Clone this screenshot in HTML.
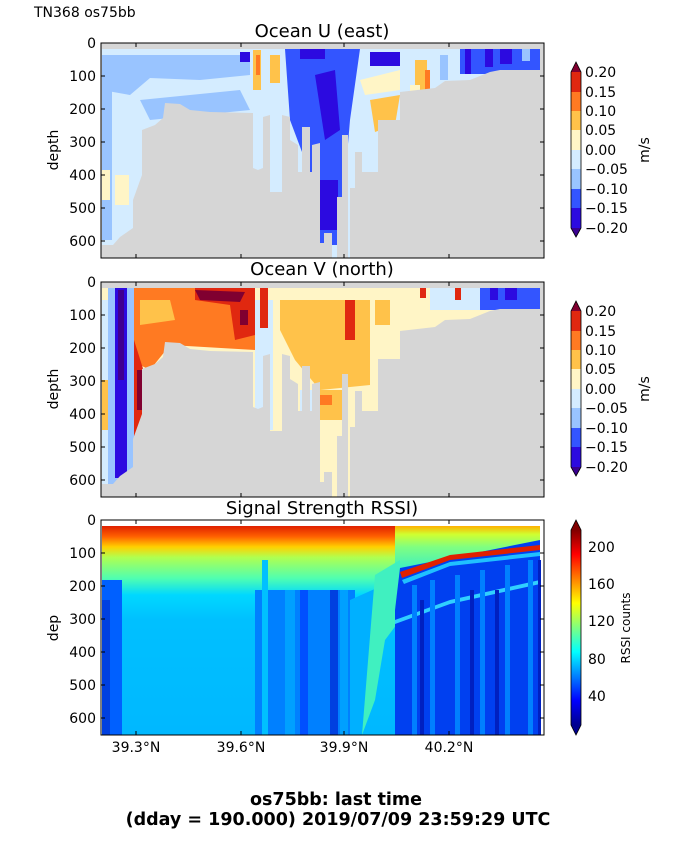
<!DOCTYPE html>
<html><head><meta charset="utf-8"><style>
body{margin:0;background:#fff;}
svg text{font-family:"DejaVu Sans","Liberation Sans",sans-serif;}
</style></head><body>
<svg width="675" height="855" viewBox="0 0 675 855" xmlns="http://www.w3.org/2000/svg">
<defs>
<g id="bathy">
<path d="M102,258 L102,245 L113,245 L120,237 L133,228 L133,200 L142,175 L142,130 L155,125 L163,118 L165,103 L180,104 L190,110 L210,112 L253,113 L253,168 L258,170 L263,168 L263,117 L270,115 L270,192 L282,192 L282,115 L290,117 L290,140 L298,145 L298,172 L302,172 L302,127 L310,127 L310,172 L312,172 L312,145 L320,143 L320,243 L324,243 L324,233 L332,233 L332,258 L337,258 L337,197 L342,197 L342,135 L348,135 L348,258 L350,258 L350,188 L355,188 L355,152 L362,152 L362,172 L378,172 L378,120 L400,120 L400,92 L435,88 L445,81 L470,80 L480,76 L490,72 L500,70 L540,70 L540,258 L544,258 L544,258 Z" fill="#d6d6d6"/>
</g>
<linearGradient id="rl" x1="0" y1="0" x2="0" y2="1">
<stop offset="0" stop-color="#e02000"/><stop offset="0.05" stop-color="#ff6000"/><stop offset="0.1" stop-color="#ffd000"/><stop offset="0.15" stop-color="#b0ff50"/><stop offset="0.25" stop-color="#50ffb0"/><stop offset="0.33" stop-color="#00d8ff"/><stop offset="0.45" stop-color="#00c0ff"/><stop offset="1" stop-color="#00b8ff"/>
</linearGradient>
<linearGradient id="rr" x1="0" y1="0" x2="0" y2="1">
<stop offset="0" stop-color="#ffb000"/><stop offset="0.04" stop-color="#d0ff30"/><stop offset="0.1" stop-color="#80ff80"/><stop offset="0.2" stop-color="#40f0c0"/><stop offset="0.3" stop-color="#20b0ff"/><stop offset="0.45" stop-color="#0060ff"/><stop offset="1" stop-color="#0040f0"/>
</linearGradient>
<linearGradient id="jet" x1="0" y1="1" x2="0" y2="0">
<stop offset="0" stop-color="#00008f"/><stop offset="0.125" stop-color="#0000ff"/><stop offset="0.375" stop-color="#00ffff"/><stop offset="0.625" stop-color="#ffff00"/><stop offset="0.875" stop-color="#ff0000"/><stop offset="1" stop-color="#800000"/>
</linearGradient>
<g id="ticks" stroke="#000" stroke-width="1">
<path d="M136,0v4M241,0v4M344,0v4M449,0v4M136,215v-4M241,215v-4M344,215v-4M449,215v-4"/>
<path d="M101,0h4M101,33h4M101,66h4M101,99h4M101,132h4M101,165h4M101,198h4M544,0h-4M544,33h-4M544,66h-4M544,99h-4M544,132h-4M544,165h-4M544,198h-4"/>
</g>
<g id="ylab" font-size="14" text-anchor="end">
<text x="96" y="5">0</text><text x="96" y="38">100</text><text x="96" y="71">200</text><text x="96" y="104">300</text><text x="96" y="137">400</text><text x="96" y="170">500</text><text x="96" y="203">600</text>
</g>
</defs>

<text x="34" y="17" font-size="14">TN368 os75bb</text>

<!-- Panel 1 -->
<text x="322" y="37" font-size="18" text-anchor="middle">Ocean U (east)</text>
<rect x="101" y="43" width="443" height="215" fill="#d6d6d6"/>
<rect x="102" y="49" width="438" height="209" fill="#d4ecff"/>
<path d="M102,55 L250,55 L250,75 L200,80 L150,78 L130,95 L102,90Z" fill="#99c4ff"/>
<path d="M140,100 L240,90 L250,110 L150,120Z" fill="#99c4ff"/>
<rect x="102" y="60" width="10" height="180" fill="#99c4ff"/>
<rect x="102" y="170" width="8" height="30" fill="#fff5c6"/>
<rect x="115" y="175" width="14" height="30" fill="#fff5c6"/>
<path d="M285,49 L360,49 L350,120 L345,180 L340,245 L320,245 L305,160 L290,120Z" fill="#3355ff"/>
<path d="M315,75 L335,70 L340,130 L325,140Z" fill="#2c0ae0"/>
<rect x="320" y="180" width="18" height="50" fill="#2c0ae0"/>
<rect x="300" y="49" width="25" height="10" fill="#2c0ae0"/>
<rect x="370" y="52" width="30" height="14" fill="#2c0ae0"/>
<rect x="240" y="52" width="10" height="10" fill="#2c0ae0"/>
<rect x="253" y="50" width="8" height="40" fill="#ffc24a"/>
<rect x="256" y="55" width="4" height="20" fill="#ff7a22"/>
<rect x="270" y="55" width="10" height="28" fill="#ffc24a"/>
<path d="M370,100 L400,95 L395,125 L375,132Z" fill="#ffc24a"/>
<path d="M360,80 L400,70 L400,90 L365,95Z" fill="#fff5c6"/>
<rect x="415" y="60" width="12" height="30" fill="#ffc24a"/>
<rect x="425" y="70" width="5" height="25" fill="#ff7a22"/>
<rect x="410" y="85" width="10" height="20" fill="#fff5c6"/>
<rect x="460" y="49" width="80" height="25" fill="#3355ff"/>
<rect x="465" y="49" width="6" height="25" fill="#2c0ae0"/>
<rect x="485" y="49" width="8" height="18" fill="#2c0ae0"/>
<rect x="500" y="49" width="12" height="15" fill="#2c0ae0"/>
<rect x="522" y="49" width="8" height="12" fill="#99c4ff"/>
<rect x="440" y="55" width="8" height="25" fill="#99c4ff"/>
<use href="#bathy"/>
<rect x="101" y="43" width="443" height="215" fill="none" stroke="#000"/>
<g transform="translate(0,43)"><use href="#ticks"/><use href="#ylab"/></g>
<text transform="translate(58,150) rotate(-90)" font-size="14" text-anchor="middle">depth</text>

<!-- Panel 2 -->
<text x="322" y="275" font-size="18" text-anchor="middle">Ocean V (north)</text>
<rect x="101" y="282" width="443" height="215" fill="#d6d6d6"/>
<rect x="102" y="288" width="438" height="209" fill="#fff5c6"/>
<rect x="102" y="300" width="12" height="190" fill="#d4ecff"/>
<rect x="102" y="380" width="10" height="50" fill="#ffc24a"/>
<path d="M130,288 L255,288 L255,350 L170,345 L150,370 L130,360Z" fill="#ff7a22"/>
<path d="M140,300 L170,300 L175,320 L140,325Z" fill="#ffc24a"/>
<path d="M195,288 L255,288 L255,335 L235,340 L230,305 L195,300Z" fill="#e02810"/>
<path d="M195,290 L245,292 L240,302 L200,300Z" fill="#800030"/>
<rect x="240" y="310" width="8" height="15" fill="#800030"/>
<rect x="108" y="288" width="26" height="202" fill="#99c4ff"/>
<rect x="115" y="288" width="12" height="190" fill="#2c0ae0"/>
<rect x="118" y="290" width="6" height="90" fill="#400090"/>
<path d="M134,340 L145,375 L145,430 L134,440Z" fill="#e02810"/>
<rect x="137" y="370" width="8" height="40" fill="#800030"/>
<rect x="255" y="300" width="18" height="130" fill="#d4ecff"/>
<rect x="260" y="288" width="8" height="40" fill="#e02810"/>
<path d="M280,300 L370,300 L370,385 L320,390 L295,360 L280,330Z" fill="#ffc24a"/>
<rect x="345" y="300" width="10" height="40" fill="#e02810"/>
<rect x="314" y="390" width="30" height="30" fill="#ffc24a"/>
<rect x="320" y="395" width="12" height="10" fill="#ff7a22"/>
<rect x="300" y="390" width="20" height="60" fill="#d4ecff"/>
<rect x="370" y="290" width="60" height="45" fill="#fff5c6"/>
<rect x="375" y="300" width="15" height="25" fill="#ffc24a"/>
<rect x="430" y="288" width="110" height="22" fill="#d4ecff"/>
<rect x="480" y="288" width="60" height="22" fill="#3355ff"/>
<rect x="490" y="288" width="8" height="12" fill="#2c0ae0"/>
<rect x="505" y="288" width="12" height="12" fill="#2c0ae0"/>
<rect x="455" y="288" width="6" height="12" fill="#e02810"/>
<rect x="420" y="288" width="6" height="10" fill="#e02810"/>
<g transform="translate(0,239)"><use href="#bathy"/></g>
<rect x="101" y="282" width="443" height="215" fill="none" stroke="#000"/>
<g transform="translate(0,282)"><use href="#ticks"/><use href="#ylab"/></g>
<text transform="translate(58,389) rotate(-90)" font-size="14" text-anchor="middle">depth</text>

<!-- Panel 3 -->
<text x="322" y="514" font-size="18" text-anchor="middle">Signal Strength RSSI)</text>
<rect x="101" y="520" width="443" height="215" fill="#ffffff"/>
<rect x="102" y="526" width="438" height="209" fill="#0040f0"/>
<rect x="102" y="526" width="295" height="209" fill="url(#rl)"/>
<rect x="102" y="580" width="20" height="155" fill="#0060ff"/>
<rect x="102" y="600" width="8" height="135" fill="#0040e0"/>
<rect x="255" y="590" width="100" height="145" fill="#0080ff"/>
<rect x="262" y="560" width="6" height="175" fill="#00c0ff"/>
<rect x="285" y="590" width="10" height="145" fill="#00a0ff"/>
<rect x="300" y="590" width="8" height="145" fill="#0050ff"/>
<rect x="330" y="590" width="8" height="145" fill="#0040e0"/>
<rect x="340" y="590" width="8" height="145" fill="#00a0ff"/>
<rect x="395" y="526" width="145" height="209" fill="url(#rr)"/>
<path d="M350,600 L395,580 L390,620 L370,690 L362,735 L350,735Z" fill="#00b0ff"/>
<path d="M375,575 L400,560 L400,620 L385,640 L375,700 L362,735Z" fill="#40f0c0"/>
<path d="M400,568 L540,540 L540,735 L395,735 L395,610Z" fill="#0040f0"/>
<path d="M400,572 L450,555 L540,545 L540,550 L450,560 L402,578Z" fill="#e02000"/>
<path d="M402,580 L450,562 L540,552 L540,556 L450,566 L404,584Z" fill="#20c0ff"/>
<path d="M395,620 L450,600 L540,580 L540,584 L450,604 L395,624Z" fill="#30d0ff"/>
<g fill="#0080ff"><rect x="412" y="585" width="5" height="150"/><rect x="430" y="580" width="5" height="155"/><rect x="455" y="575" width="5" height="160"/><rect x="480" y="570" width="5" height="165"/><rect x="505" y="565" width="5" height="170"/><rect x="528" y="560" width="5" height="175"/></g>
<g fill="#0020c0"><rect x="420" y="600" width="4" height="135"/><rect x="470" y="590" width="4" height="145"/><rect x="495" y="590" width="4" height="145"/><rect x="538" y="560" width="3" height="175"/></g>
<rect x="101" y="520" width="443" height="215" fill="none" stroke="#000"/>
<g transform="translate(0,520)"><use href="#ticks"/><use href="#ylab"/></g>
<text transform="translate(58,628) rotate(-90)" font-size="14" text-anchor="middle">dep</text>
<g font-size="14" text-anchor="middle">
<text x="136" y="752">39.3°N</text><text x="241" y="752">39.6°N</text><text x="344" y="752">39.9°N</text><text x="449" y="752">40.2°N</text>
</g>

<!-- Colorbars U,V -->
<g id="cb">
<path d="M571,72 L576,62 L581,72Z" fill="#800030"/>
<rect x="571" y="72" width="10" height="20" fill="#e02810"/>
<rect x="571" y="92" width="10" height="19" fill="#ff7a22"/>
<rect x="571" y="111" width="10" height="19" fill="#ffc24a"/>
<rect x="571" y="130" width="10" height="20" fill="#fff5c6"/>
<rect x="571" y="150" width="10" height="19" fill="#d4ecff"/>
<rect x="571" y="169" width="10" height="20" fill="#99c4ff"/>
<rect x="571" y="189" width="10" height="19" fill="#3355ff"/>
<rect x="571" y="208" width="10" height="20" fill="#2c0ae0"/>
<path d="M571,228 L576,237 L581,228Z" fill="#3a0090"/>
<path d="M571,72 L576,62 L581,72 L581,228 L576,237 L571,228Z" fill="none" stroke="#000" stroke-width="0.8"/>
<g font-size="14"><text x="585" y="77">0.20</text><text x="585" y="97">0.15</text><text x="585" y="116">0.10</text><text x="585" y="135">0.05</text><text x="585" y="155">0.00</text><text x="585" y="174">−0.05</text><text x="585" y="194">−0.10</text><text x="585" y="213">−0.15</text><text x="585" y="233">−0.20</text></g>
<text transform="translate(649,150) rotate(-90)" font-size="14" text-anchor="middle">m/s</text>
</g>
<g transform="translate(0,239)"><use href="#cb"/></g>

<!-- RSSI colorbar -->
<path d="M571,530 L576,520 L581,530Z" fill="#800000"/>
<rect x="571" y="530" width="10" height="195" fill="url(#jet)"/>
<path d="M571,725 L576,735 L581,725Z" fill="#00008f"/>
<path d="M571,530 L576,520 L581,530 L581,725 L576,735 L571,725Z" fill="none" stroke="#000" stroke-width="0.8"/>
<g font-size="14"><text x="588" y="552">200</text><text x="588" y="589">160</text><text x="588" y="626">120</text><text x="588" y="664">80</text><text x="588" y="701">40</text></g>
<text transform="translate(630,628) rotate(-90)" font-size="12" text-anchor="middle">RSSI counts</text>

<g font-size="17.5" font-weight="bold" text-anchor="middle">
<text x="336" y="805">os75bb: last time</text>
<text x="338" y="825">(dday = 190.000) 2019/07/09 23:59:29 UTC</text>
</g>
</svg>
</body></html>
